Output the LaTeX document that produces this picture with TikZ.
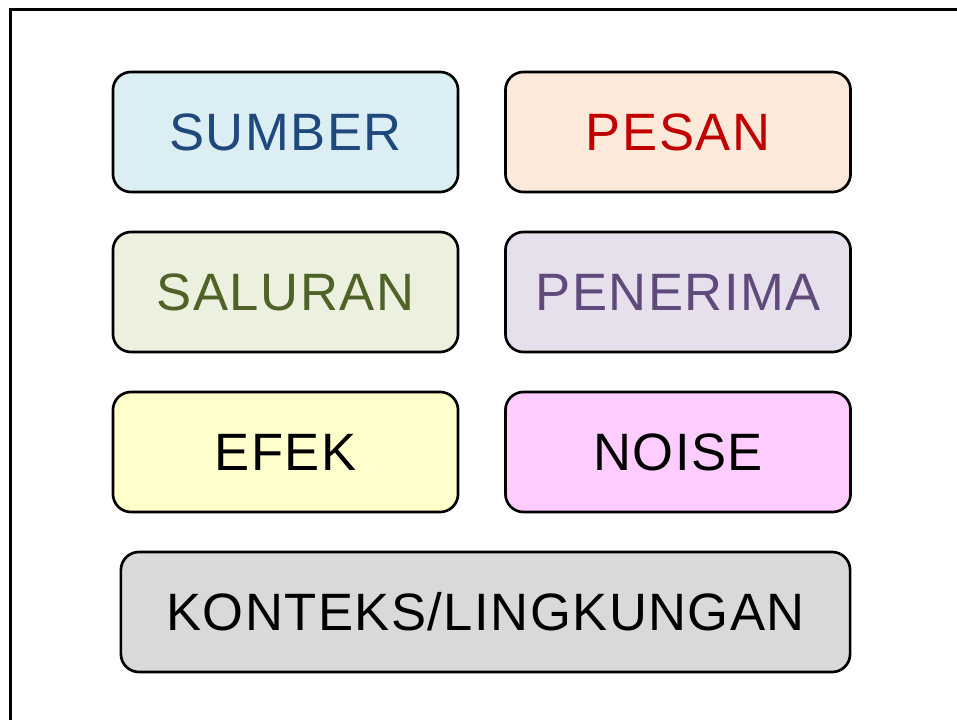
\documentclass[tikz,border=0pt]{standalone}
\usepackage{fontspec}
\setmainfont{Liberation Sans}[LetterSpace=2.8]
\usetikzlibrary{positioning}

\definecolor{sumberfill}{HTML}{DAEEF3}
\definecolor{sumbertext}{HTML}{1F497D}
\definecolor{pesanfill}{HTML}{FDE9D9}
\definecolor{pesantext}{HTML}{C00000}
\definecolor{saluranfill}{HTML}{EBF1DE}
\definecolor{salurantext}{HTML}{4F6228}
\definecolor{penerimafill}{HTML}{E5E0EC}
\definecolor{penerimatext}{HTML}{604A7B}
\definecolor{efekfill}{HTML}{FFFFCC}
\definecolor{noisefill}{HTML}{FFCCFF}
\definecolor{kontekfill}{HTML}{D9D9D9}

\begin{document}
\begin{tikzpicture}[
  x=0.025cm, y=-0.025cm,
  font=\fontsize{37.4}{44}\selectfont,
  unsur/.style={draw, line width=1.9pt, rounded corners=0.45cm,
    minimum width=8.625cm, minimum height=3cm, inner sep=0pt},
]
\useasboundingbox (0,0) rectangle (957,720);
\clip (0,0) rectangle (957,720);

% outer frame
\draw[line width=1.5pt] (10.5,9.5) rectangle (1000,800);

\node[unsur, fill=sumberfill, text=sumbertext] (sumber) at (285.5,132) {SUMBER};
\node[unsur, fill=pesanfill, text=pesantext] (pesan) at (678,132) {PESAN};
\node[unsur, fill=saluranfill, text=salurantext] (saluran) at (285.5,292) {SALURAN};
\node[unsur, fill=penerimafill, text=penerimatext] (penerima) at (678,292) {PENERIMA};
\node[unsur, fill=efekfill] (efek) at (285.5,452) {EFEK};
\node[unsur, fill=noisefill] (noise) at (678,452) {NOISE};
\node[unsur, fill=kontekfill, minimum width=18.225cm] (konteks) at (485.5,612) {KONTEKS/LINGKUNGAN};
\end{tikzpicture}
\end{document}
